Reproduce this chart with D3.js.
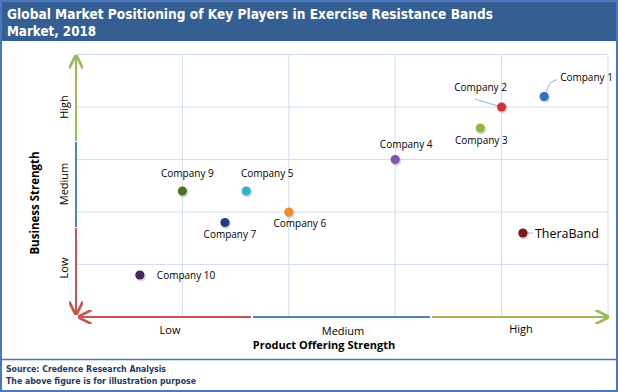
<!DOCTYPE html>
<html><head><meta charset="utf-8">
<script src="https://cdn.jsdelivr.net/npm/d3@7"></script>
<style>body{margin:0;background:#fff}svg{display:block}</style>
</head><body>
<script>
const companies = ["Company 1","Company 2","Company 3","Company 4","Company 5","Company 6","Company 7","Company 9","Company 10","TheraBand"];
const productStrength = [4.4, 4.0, 3.8, 3.0, 1.6, 2.0, 1.4, 1.0, 0.6, 4.2];
const businessStrength = [4.2, 4.0, 3.6, 3.0, 2.4, 2.0, 1.8, 2.4, 0.8, 1.6];
const colors = ["#3271c1","#cf3434","#8cba3c","#7c55ad","#2fb0d4","#f18b2a","#1f3f78","#4f7421","#40295c","#7a1a1a"];
const xLevels = ["Low","Medium","High"];
const yLevels = ["Low","Medium","High"];

const W=618,H=392;
const svg=d3.select("body").append("svg").attr("width",W).attr("height",H);
const font="'Open Sans', sans-serif";

// header
svg.append("rect").attr("x",0).attr("y",0).attr("width",W).attr("height",41).attr("fill","#355f92");
svg.append("text").attr("x",7).attr("y",18.5).attr("fill","#fff").attr("font-family","'DejaVu Sans', sans-serif")
  .attr("font-weight","bold").attr("font-size",14.5).attr("textLength",486).attr("lengthAdjust","spacingAndGlyphs")
  .text("Global Market Positioning of Key Players in Exercise Resistance Bands");
svg.append("text").attr("x",7).attr("y",35.5).attr("fill","#fff").attr("font-family","'DejaVu Sans', sans-serif")
  .attr("font-weight","bold").attr("font-size",14.5).attr("textLength",89).attr("lengthAdjust","spacingAndGlyphs")
  .text("Market, 2018");

// borders
svg.append("rect").attr("x",1).attr("y",1).attr("width",W-2).attr("height",H-2).attr("fill","none").attr("stroke","#4a78c0").attr("stroke-width",2);
svg.append("line").attr("x1",0).attr("x2",W).attr("y1",359.5).attr("y2",359.5).attr("stroke","#4a78c0").attr("stroke-width",1.5);

// footer
svg.append("text").attr("x",6).attr("y",372).attr("fill","#1f3864").attr("font-family","'DejaVu Sans', sans-serif")
  .attr("font-weight","bold").attr("font-size",9.5).attr("textLength",160).attr("lengthAdjust","spacingAndGlyphs").text("Source: Credence Research Analysis");
svg.append("text").attr("x",6).attr("y",383.5).attr("fill","#1f3864").attr("font-family","'DejaVu Sans', sans-serif")
  .attr("font-weight","bold").attr("font-size",9.5).attr("textLength",190).attr("lengthAdjust","spacingAndGlyphs").text("The above figure is for illustration purpose");

const x=d3.scaleLinear().domain([0,5]).range([76,608]);
const y=d3.scaleLinear().domain([0,5]).range([317,54.5]);

// grid
const g=svg.append("g");
d3.range(1,6).forEach(v=>{
  g.append("line").attr("x1",x(v)).attr("x2",x(v)).attr("y1",y(0)).attr("y2",y(5)).attr("stroke","#cfdff1").attr("stroke-width",1);
  g.append("line").attr("x1",x(0)).attr("x2",x(5)).attr("y1",y(v)).attr("y2",y(v)).attr("stroke","#cfdff1").attr("stroke-width",1);
});

// arrows
const defs=svg.append("defs");
function marker(id,color){
  defs.append("marker").attr("id",id).attr("viewBox","0 0 10 10").attr("refX",9).attr("refY",5)
    .attr("markerWidth",7).attr("markerHeight",7).attr("orient","auto-start-reverse")
    .append("path").attr("d","M0,0 L10,5 L0,10").attr("fill","none").attr("stroke",color).attr("stroke-width",2);
}
marker("mr","#c85450");marker("mg","#9bbb59");
const ax=svg.append("g").attr("stroke-width",2).attr("fill","none");
// x-axis segments
ax.append("line").attr("x1",251).attr("x2",79).attr("y1",y(0)).attr("y2",y(0)).attr("stroke","#c85450").attr("marker-end","url(#mr)");
ax.append("line").attr("x1",253).attr("x2",430).attr("y1",y(0)).attr("y2",y(0)).attr("stroke","#4f81bd");
ax.append("line").attr("x1",432).attr("x2",608).attr("y1",y(0)).attr("y2",y(0)).attr("stroke","#9bbb59").attr("marker-end","url(#mg)");
// y-axis segments
ax.append("line").attr("x1",76).attr("x2",76).attr("y1",228).attr("y2",314).attr("stroke","#c85450").attr("marker-end","url(#mr)");
ax.append("line").attr("x1",76).attr("x2",76).attr("y1",142).attr("y2",227).attr("stroke","#4f81bd");
ax.append("line").attr("x1",76).attr("x2",76).attr("y1",141).attr("y2",56).attr("stroke","#9bbb59").attr("marker-end","url(#mg)");

// axis level labels
const xl=[170,343,521], xly=[334,335,333];
xLevels.forEach((t,i)=>svg.append("text").attr("x",xl[i]).attr("y",xly[i]).attr("text-anchor","middle")
  .attr("font-family",font).attr("font-size",11).attr("fill","#000").text(t));
const yl=[268,184,107];
yLevels.forEach((t,i)=>svg.append("text").attr("transform",`translate(68,${yl[i]}) rotate(-90)`).attr("text-anchor","middle")
  .attr("font-family",font).attr("font-size",11).attr("fill","#000").text(t));
svg.append("text").attr("x",324).attr("y",349).attr("text-anchor","middle").attr("font-family",font)
  .attr("font-weight","bold").attr("font-size",11).text("Product Offering Strength");
svg.append("text").attr("transform","translate(39,203) rotate(-90)").attr("text-anchor","middle").attr("font-family",font)
  .attr("font-weight","bold").attr("font-size",11.5).text("Business Strength");

// label offsets (dx, dy, anchor)
const lab=[[16,-16,"start"],[-21,-16,"middle"],[1,16,"middle"],[11,-12,"middle"],[21,-14,"middle"],[11,15,"middle"],[5,15,"middle"],[5,-14,"middle"],[17,4,"start"],[12,5,"start"]];
// leader lines
const leaders=[[0,[[x(4.4),y(4.2)],[x(4.4)+6,y(4.2)-14],[x(4.4)+13,y(4.2)-17]]],[1,[[x(4.0),y(4.0)],[x(4.0)-27,y(4.0)-8]]],[9,[[x(4.2),y(1.6)],[x(4.2)+10,y(1.6)]]]];
leaders.forEach(([i,pts])=>svg.append("path").attr("d",d3.line()(pts)).attr("fill","none").attr("stroke","#8fb4e3").attr("stroke-width",1));

const pts=svg.append("g");
companies.forEach((c,i)=>{
  const cx=x(productStrength[i]), cy=y(businessStrength[i]);
  pts.append("circle").attr("cx",cx+1).attr("cy",cy+1.5).attr("r",5).attr("fill","#000").attr("opacity",0.15);
  pts.append("circle").attr("cx",cx).attr("cy",cy).attr("r",4.6).attr("fill",colors[i]);
  const l=lab[i];
  pts.append("text").attr("x",cx+l[0]).attr("y",cy+l[1]).attr("text-anchor",l[2]).attr("font-family",font)
    .attr("font-size",c==="TheraBand"?12.5:10).attr("fill","#000").text(c);
});
</script>
</body></html>
